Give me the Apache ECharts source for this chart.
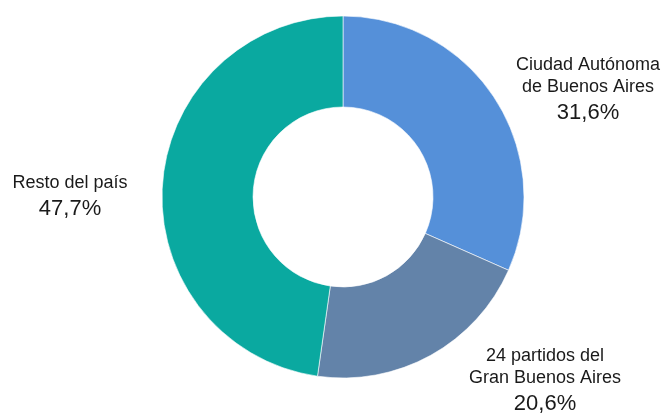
<!DOCTYPE html>
<html>
<head>
<meta charset="utf-8">
<script src="https://cdn.jsdelivr.net/npm/echarts@6/dist/echarts.min.js"></script>
<style>
html,body{margin:0;padding:0;background:#fff;}
#chart{width:666px;height:414px;}
</style>
</head>
<body>
<div id="chart"></div>
<script>
const categories = ["Ciudad Autónoma\nde Buenos Aires", "24 partidos del\nGran Buenos Aires", "Resto del país"];
const values = [31.6, 20.6, 47.7];
const colors = ["#5590d9", "#6383a9", "#0aa9a0"];
const labelPos = [[588, 90.5], [545, 381.5], [70, 198]];

const chart = echarts.init(document.getElementById('chart'), null, {renderer: 'canvas'});
chart.setOption({
  animation: false,
  series: [{
    type: 'pie',
    center: [343, 197],
    radius: [90, 181],
    startAngle: 90,
    clockwise: true,
    itemStyle: {borderColor: '#fff', borderWidth: 0.6},
    label: {
      show: true,
      position: 'outside',
      overflow: 'none',
      formatter: function (p) {
        const lines = p.name.split('\n').map(l => '{n|' + l + '}').join('\n');
        return lines + '\n{v|' + p.value.toFixed(1).replace('.', ',') + '%}';
      },
      rich: {
        n: {fontFamily: 'Liberation Sans, Arial, sans-serif', fontSize: 18, color: '#1a1a1a', lineHeight: 22, align: 'center'},
        v: {fontFamily: 'Liberation Sans, Arial, sans-serif', fontSize: 22, color: '#1a1a1a', lineHeight: 29, align: 'center'}
      }
    },
    labelLine: {show: false},
    labelLayout: function (params) {
      const pos = labelPos[params.dataIndex];
      return {x: pos[0], y: pos[1], align: 'center', verticalAlign: 'middle'};
    },
    emphasis: {disabled: true},
    data: categories.map((c, i) => ({name: c, value: values[i], itemStyle: {color: colors[i]}}))
  }]
});
</script>
</body>
</html>
